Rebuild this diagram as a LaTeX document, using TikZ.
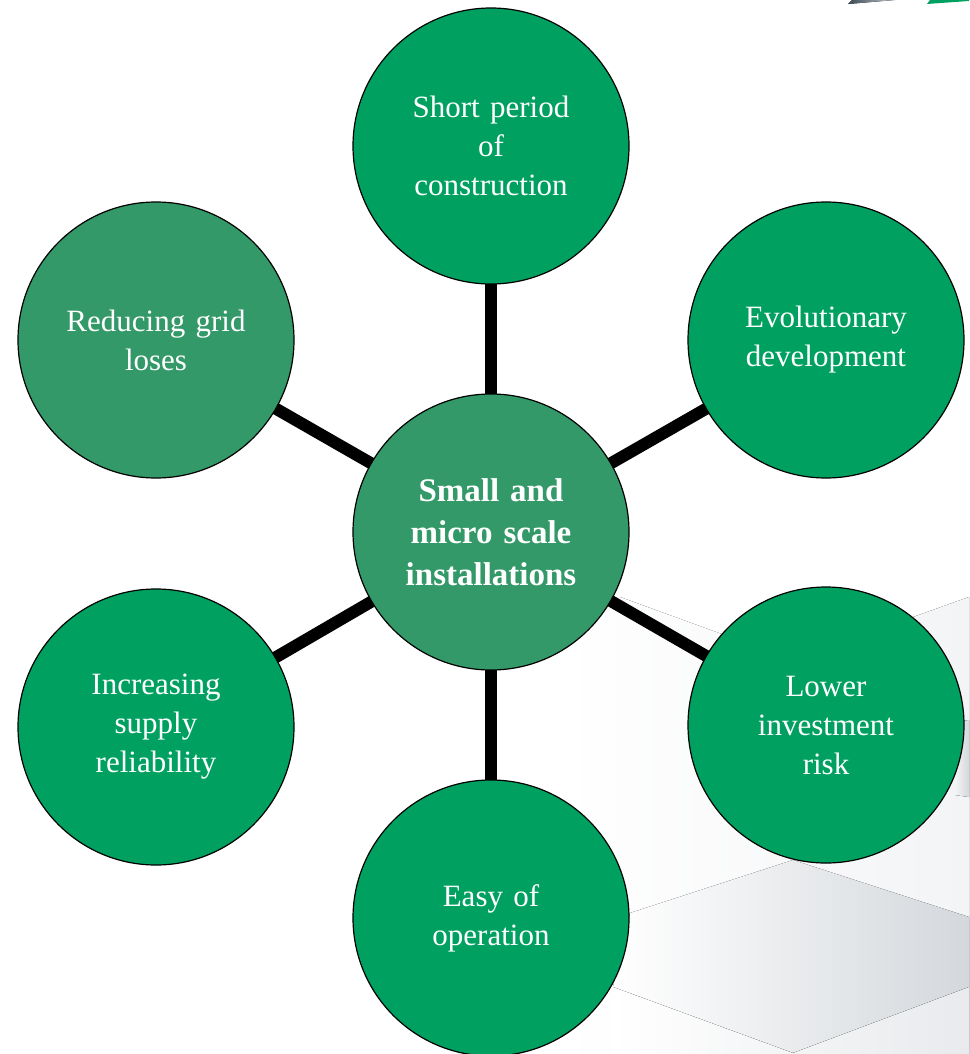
\documentclass[tikz,border=0pt]{standalone}
\usepackage{fontspec}
\setmainfont{Liberation Serif}
\definecolor{outergreen}{RGB}{0,161,96}
\definecolor{midgreen}{RGB}{52,153,104}
\definecolor{slate}{RGB}{58,74,87}
\definecolor{bgA}{RGB}{243,244,246}
\definecolor{bgB}{RGB}{212,216,220}
\definecolor{bgC}{RGB}{232,234,237}
\pgfdeclarelayer{backdrop}
\pgfdeclarelayer{spokes}
\pgfsetlayers{backdrop,spokes,main}
\tikzset{
  bubble/.style={circle, draw=black, line width=1.2pt, fill=outergreen, minimum size=276pt,
    inner sep=0pt, align=center, text=white, text width=220pt,
    font=\fontsize{31}{39}\selectfont},
  hub/.style={bubble, fill=midgreen, font=\fontsize{33}{42}\selectfont\bfseries},
  spoke/.style={line width=12pt, draw=black}
}
\begin{document}
\begin{tikzpicture}[x=1pt,y=-1pt]
\useasboundingbox (0,0) rectangle (969,1054);
% background shapes
\begin{pgfonlayer}{backdrop}
\fill[left color=white, right color=bgA] (560,600) -- (620,597) -- (793,660) -- (969,597) -- (969,1054) -- (560,1054) -- cycle;
\fill[left color=white, right color=bgB] (630,913) -- (793,860) -- (969,917) -- (969,987) -- (793,1053) -- (613,987) -- cycle;
\fill[left color=white, right color=bgC] (613,987) -- (793,1053) -- (969,987) -- (969,1054) -- (613,1054) -- cycle;
\fill[left color=bgA, right color=bgB] (955,722) -- (969,720) -- (969,797) -- (955,795) -- cycle;
\fill[left color=slate, right color=slate!30] (848,4) -- (852,0) -- (895,0) -- cycle;
\fill[outergreen] (927,4) -- (930,0) -- (969,0) -- (969,1) -- cycle;
\end{pgfonlayer}
% nodes
\node[hub] (c) at (491,532) {Small and\\micro scale\\installations};
\node[bubble] (t) at (491,146) {Short period\\of\\construction};
\node[bubble] (tr) at (826,340) {Evolutionary\\development};
\node[bubble] (br) at (826,725) {Lower\\investment\\risk};
\node[bubble] (b) at (491,918) {Easy of\\operation};
\node[bubble] (bl) at (156,727) {Increasing\\supply\\reliability};
\node[bubble, fill=midgreen] (tl) at (156,340) {Reducing grid\\loses};
% spokes
\begin{pgfonlayer}{spokes}
\foreach \n in {t,tr,br,b,bl,tl}{
  \draw[spoke] (c.center) -- (\n.center);
}
\end{pgfonlayer}
\end{tikzpicture}
\end{document}
